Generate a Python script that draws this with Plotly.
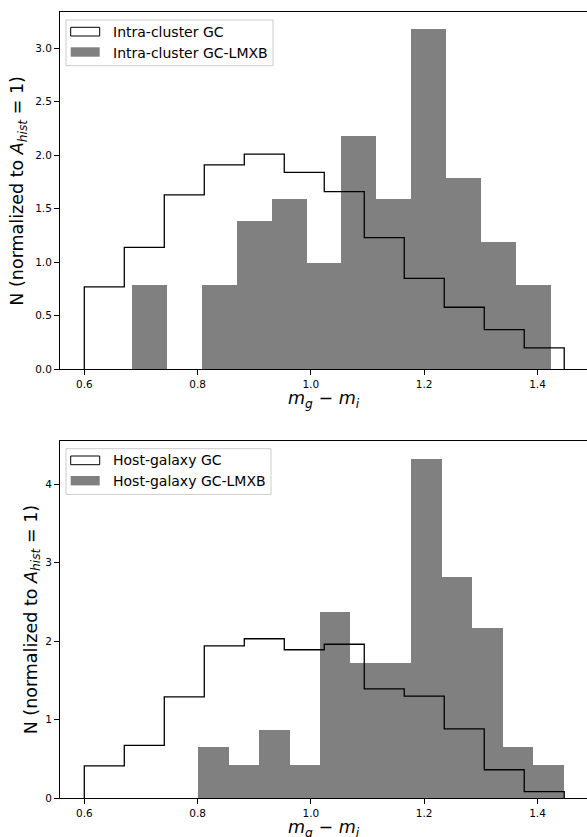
import plotly.graph_objects as go

# ---------------- data ----------------
top_gc_edges = [0.600, 0.6706, 0.7412, 0.8118, 0.8824, 0.9530, 1.0236,
                1.0942, 1.1648, 1.2354, 1.3060, 1.3766, 1.4472]
top_gc_values = [0.77, 1.14, 1.63, 1.91, 2.01, 1.84, 1.66, 1.23, 0.85, 0.58, 0.37, 0.20]

top_lmxb_edges = [0.685, 0.7465, 0.808, 0.8695, 0.931, 0.9925, 1.054,
                  1.1155, 1.177, 1.2385, 1.300, 1.3615, 1.423]
top_lmxb_values = [0.79, 0.0, 0.79, 1.39, 1.59, 0.99, 2.18, 1.59, 3.18, 1.79, 1.19, 0.79]

bot_gc_edges = [0.600, 0.6706, 0.7412, 0.8118, 0.8824, 0.9530, 1.0236,
                1.0942, 1.1648, 1.2354, 1.3060, 1.3766, 1.4472]
bot_gc_values = [0.41, 0.67, 1.29, 1.94, 2.03, 1.89, 1.96, 1.39, 1.30, 0.88, 0.36, 0.08]

bot_lmxb_edges = [0.801, 0.8548, 0.9085, 0.9623, 1.016, 1.0698, 1.1235,
                  1.1773, 1.231, 1.2848, 1.3385, 1.3923, 1.446]
bot_lmxb_values = [0.65, 0.43, 0.87, 0.43, 2.38, 1.73, 1.73, 4.33, 2.82, 2.17, 0.65, 0.43]

top_labels = ["Intra-cluster GC", "Intra-cluster GC-LMXB"]
bot_labels = ["Host-galaxy GC", "Host-galaxy GC-LMXB"]

x_ticks = [0.6, 0.8, 1.0, 1.2, 1.4]
top_y_ticks = [0.0, 0.5, 1.0, 1.5, 2.0, 2.5, 3.0]
bot_y_ticks = [0, 1, 2, 3, 4]

# ---------------- styling ----------------
W, H = 587, 837
ML, MR, MT, MB = 60, 0, 12, 39
PW = W - ML - MR
PH_TOTAL = H - MT - MB
AX_H = 357.3
GREY = "#808080"
FONT = "DejaVu Sans"
X_RANGE = [0.5571, 1.4874]


def bar_trace(edges, values, xa, ya):
    centers = [(edges[i] + edges[i + 1]) / 2 for i in range(len(values))]
    widths = [edges[i + 1] - edges[i] for i in range(len(values))]
    return go.Bar(x=centers, y=values, width=widths, xaxis=xa, yaxis=ya,
                  marker=dict(color=GREY, line=dict(width=0)),
                  showlegend=False, hoverinfo="skip")


def step_trace(edges, values, xa, ya):
    xs, ys = [edges[0]], [0]
    for i, v in enumerate(values):
        xs += [edges[i], edges[i + 1]]
        ys += [v, v]
    xs.append(edges[-1])
    ys.append(0)
    return go.Scatter(x=xs, y=ys, mode="lines", xaxis=xa, yaxis=ya,
                      line=dict(color="black", width=1.3),
                      showlegend=False, hoverinfo="skip")


fig = go.Figure()
fig.add_trace(bar_trace(top_lmxb_edges, top_lmxb_values, "x", "y"))
fig.add_trace(step_trace(top_gc_edges, top_gc_values, "x", "y"))
fig.add_trace(bar_trace(bot_lmxb_edges, bot_lmxb_values, "x2", "y2"))
fig.add_trace(step_trace(bot_gc_edges, bot_gc_values, "x2", "y2"))

top_dom = [1 - AX_H / PH_TOTAL, 1]
bot_dom = [0, AX_H / PH_TOTAL]

xcommon = dict(range=X_RANGE, tickvals=x_ticks, tickformat=".1f",
               showline=True, mirror=True, linecolor="black", linewidth=1,
               ticks="outside", ticklen=5, tickwidth=1, tickcolor="black",
               showgrid=False, zeroline=False,
               tickfont=dict(size=10.5, color="black", family=FONT))
ycommon = dict(showline=True, mirror=False, linecolor="black", linewidth=1,
               ticks="outside", ticklen=5, tickwidth=1, tickcolor="black",
               showgrid=False, zeroline=False,
               tickfont=dict(size=10.5, color="black", family=FONT))

fig.update_layout(
    width=W, height=H,
    margin=dict(l=ML, r=MR, t=MT, b=MB),
    paper_bgcolor="white", plot_bgcolor="white",
    font=dict(family=FONT, color="black"),
    barmode="overlay", bargap=0,
    showlegend=False,
    xaxis=dict(domain=[0, 1], anchor="y", **xcommon),
    yaxis=dict(domain=top_dom, anchor="x", range=[0, 3.339],
               tickvals=top_y_ticks, tickformat=".1f", **ycommon),
    xaxis2=dict(domain=[0, 1], anchor="y2", **xcommon),
    yaxis2=dict(domain=bot_dom, anchor="x2", range=[0, 4.555],
                tickvals=bot_y_ticks, tickformat="d", **ycommon),
)

xtitle = "<i>m</i><sub><i>g</i></sub> − <i>m</i><sub><i>i</i></sub>"
ytitle = "N (normalized to <i>A</i><sub><i>hist</i></sub> = 1)"


def px_x(p):
    return p / PW


def px_y(p):
    return 1 - p / AX_H


def add_axis_text(xa, ya, ytitle_shift):
    fig.add_annotation(text=xtitle, xref=f"{xa} domain", yref=f"{ya} domain",
                       x=0.5, y=0, xanchor="center", yanchor="top", yshift=-17,
                       showarrow=False, font=dict(size=17.5, family=FONT, color="black"))
    fig.add_annotation(text=ytitle, xref=f"{xa} domain", yref=f"{ya} domain",
                       x=0, y=0.5, xanchor="center", yanchor="middle",
                       xshift=ytitle_shift, textangle=-90,
                       showarrow=False, font=dict(size=17.5, family=FONT, color="black"))


def add_legend(xa, ya, labels, box_right):
    xr, yr = f"{xa} domain", f"{ya} domain"
    # frame
    fig.add_shape(type="rect", xref=xr, yref=yr,
                  x0=px_x(6), x1=px_x(box_right), y0=px_y(53.7), y1=px_y(8),
                  line=dict(color="#cccccc", width=1),
                  fillcolor="rgba(255,255,255,0.8)", layer="above")
    # open patch
    fig.add_shape(type="rect", xref=xr, yref=yr,
                  x0=px_x(10.7), x1=px_x(39.7), y0=px_y(24), y1=px_y(15.3),
                  line=dict(color="black", width=1), fillcolor="white", layer="above")
    # filled patch
    fig.add_shape(type="rect", xref=xr, yref=yr,
                  x0=px_x(10.7), x1=px_x(39.7), y0=px_y(44.7), y1=px_y(35.3),
                  line=dict(width=0), fillcolor=GREY, layer="above")
    for lab, yc in zip(labels, [19.7, 40.7]):
        fig.add_annotation(text=lab, xref=xr, yref=yr, x=px_x(51), y=px_y(yc),
                           xanchor="left", yanchor="middle", showarrow=False,
                           font=dict(size=14, family=FONT, color="black"))


add_axis_text("x", "y", -41)
add_axis_text("x2", "y2", -28)
add_legend("x", "y", top_labels, 213)
add_legend("x2", "y2", bot_labels, 211)

fig.write_html("out.html")
